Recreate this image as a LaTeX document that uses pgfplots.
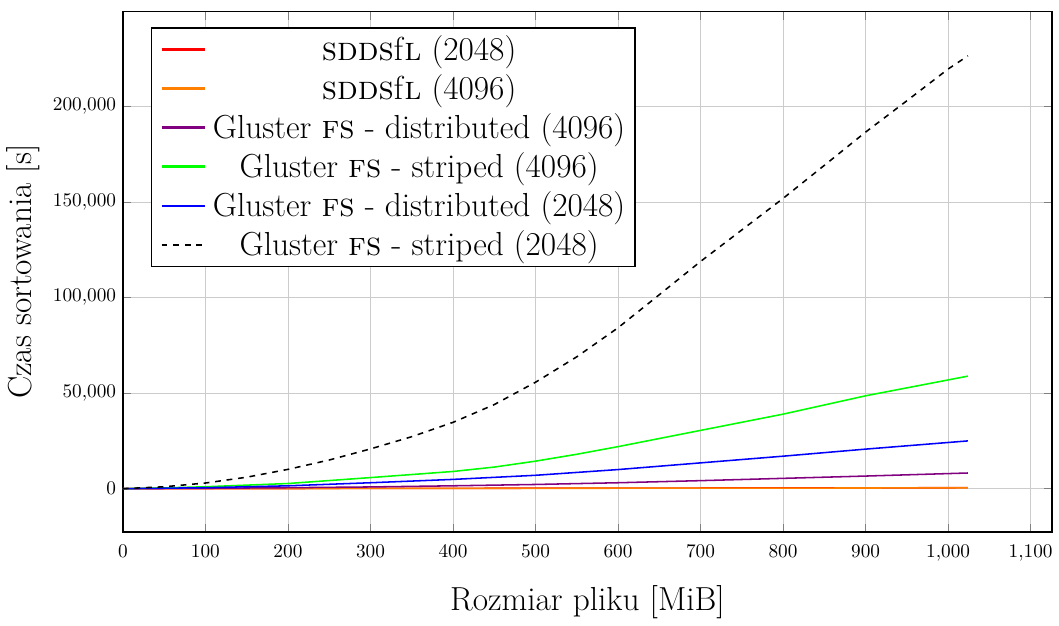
\documentclass[border=0pt]{standalone}
\usepackage{pgfplots}
\pgfplotsset{compat=1.18}
\pgfplotsset{legend image code/.code={\path[draw=none] (0cm,0cm) -- (0.945cm,0cm); \draw[#1, line width=1.1pt] (0.08cm,0cm) -- (0.865cm,0cm);}}
\begin{document}
\begin{tikzpicture}
\begin{axis}[
  scale only axis,
  width=482pt, height=270pt,
  xmin=0, xmax=1126, ymin=-22700, ymax=249700,
  xtick={0,100,...,1100},
  ytick={0,50000,100000,150000,200000},
  scaled y ticks=false,
  yticklabel style={/pgf/number format/fixed, /pgf/number format/precision=0},
  xticklabel style={yshift=-3pt},
  grid=major,
  major grid style={gray!40},
  axis line style={line width=0.7pt},
  xlabel={\LARGE Rozmiar pliku [MiB]},
  xlabel style={yshift=-6pt},
  ylabel={\LARGE Czas sortowania [s]},
  legend pos=north west,
  legend cell align=center,
  legend style={font=\LARGE, row sep=1.8pt, line width=0.7pt, inner xsep=3pt},
]
\addplot[red, thick] coordinates {(0,0) (100,40) (200,90) (300,140) (400,190) (500,240) (600,290) (700,340) (800,390) (900,440) (1024,500)};
\addlegendentry{\textsc{sdds}f\textsc{l} (2048)}
\addplot[orange, thick] coordinates {(0,0) (100,35) (200,75) (300,115) (400,155) (500,195) (600,235) (700,275) (800,315) (900,355) (1024,400)};
\addlegendentry{\textsc{sdds}f\textsc{l} (4096)}
\addplot[violet, thick] coordinates {(0,0) (100,200) (200,500) (300,900) (400,1500) (500,2200) (600,3100) (700,4200) (800,5400) (900,6600) (1024,8200)};
\addlegendentry{Gluster \textsc{fs} - distributed (4096)}
\addplot[green, thick] coordinates {(0,0) (50,400) (100,1000) (200,2700) (300,5800) (400,9000) (450,11300) (500,14400) (550,18000) (600,22000) (700,30500) (800,39000) (900,48600) (1024,58900)};
\addlegendentry{Gluster \textsc{fs} - striped (4096)}
\addplot[blue, thick] coordinates {(0,0) (100,500) (200,1500) (300,3100) (400,4850) (500,7000) (600,10000) (700,13500) (800,17000) (900,20700) (1024,25000)};
\addlegendentry{Gluster \textsc{fs} - distributed (2048)}
\addplot[black, thick, dashed] coordinates {(0,0) (50,1000) (100,2950) (150,6000) (200,10100) (250,15000) (300,20800) (350,27200) (400,34700) (450,44000) (500,55700) (550,69000) (600,84200) (650,101500) (700,118900) (750,135400) (800,151900) (850,169200) (900,186600) (950,203000) (1000,219600) (1024,226500)};
\addlegendentry{Gluster \textsc{fs} - striped (2048)}
\end{axis}
\path ([yshift=6pt]current axis.north);
\end{tikzpicture}
\end{document}
